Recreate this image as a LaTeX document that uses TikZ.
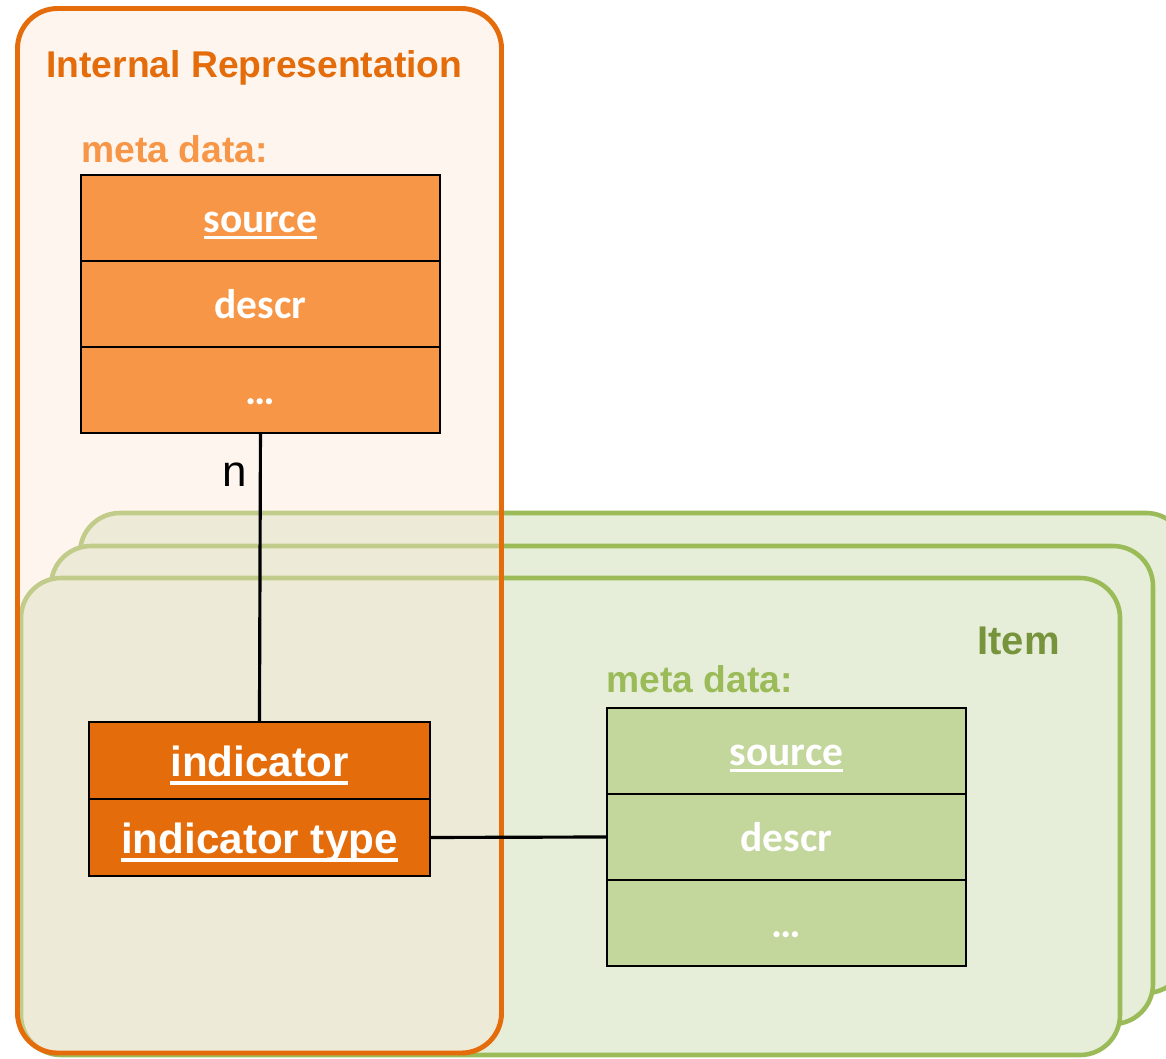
\documentclass[tikz,border=0pt]{standalone}
\usepackage{fontspec}
\setmainfont{Liberation Sans}
\newfontfamily\carlito{Carlito}

\definecolor{oDark}{HTML}{E46C0A}
\definecolor{oLight}{HTML}{F79646}
\definecolor{oPale}{HTML}{FCE6D7}
\definecolor{gBorder}{HTML}{9BBB59}
\definecolor{gFill}{HTML}{E6EED9}
\definecolor{gBox}{HTML}{C3D69B}
\definecolor{gDark}{HTML}{77933C}

% underlined word: #1 = rule position below baseline, #2 = rule thickness
\newcommand\ulword[3]{\setbox0\hbox{#3}\rlap{\rule[-#1]{\wd0}{#2}}\box0}

\tikzset{
  x=0.02cm, y=-0.02cm,
  card/.style={draw=gBorder, fill=gFill, line width=2.6pt, rounded corners=0.8cm},
  container/.style={draw=oDark, line width=2.8pt, rounded corners=0.8cm,
    fill=oPale, fill opacity=0.4},
  rowbox/.style={draw=black, line width=1.2pt, minimum width=7.18cm,
    minimum height=1.72cm, inner sep=0pt, outer sep=0pt, anchor=north west,
    text=white, font=\carlito\bfseries\fontsize{23.6}{27}\selectfont,
    text height=19pt, text depth=3pt},
  orangerow/.style={rowbox, fill=oLight},
  greenrow/.style={rowbox, fill=gBox},
  indrow/.style={rowbox, fill=oDark, minimum width=6.82cm, minimum height=1.54cm,
    font=\bfseries\fontsize{24}{28}\selectfont, text height=20pt, text depth=2pt},
  title/.style={font=\bfseries\fontsize{21.2}{25}\selectfont, inner sep=0pt},
  link/.style={draw=black, line width=1.8pt},
}

\begin{document}
\begin{tikzpicture}
\useasboundingbox (0,0) rectangle (1166,1058);

% stacked item cards, back to front
\draw[card] (80,513) rectangle (1186,993);
\draw[card] (51,546) rectangle (1153,1024);
\draw[card] (21,578) rectangle (1120,1055);

% item contents
\node[title, text=gDark, font=\bfseries\fontsize{22.8}{27}\selectfont, anchor=base east]
  (itemtitle) at (1060,654) {Item};
\node[title, text=gBorder, anchor=base west] (gmetalabel) at (606,692) {meta data:};
\node[greenrow] (gsrc) at (607,708) {\ulword{4pt}{1.7pt}{source}};
\node[greenrow] (gdescr) at (gsrc.south west) {descr};
\node[greenrow] (gdots) at (gdescr.south west) {\char"2026};

% internal representation container
\draw[container] (17.5,8.5) rectangle (501.5,1053);

\node[title, text=oDark, anchor=base west] (irtitle) at (46,77) {Internal Representation};
\node[title, text=oLight, anchor=base west] (ometalabel) at (81,162) {meta data:};
\node[orangerow] (osrc) at (81,175) {\ulword{4pt}{1.7pt}{source}};
\node[orangerow] (odescr) at (osrc.south west) {descr};
\node[orangerow] (odots) at (odescr.south west) {\char"2026};

\node[indrow] (ind) at (89,722) {\ulword{4.8pt}{2pt}{indicator}};
\node[indrow] (indtype) at (ind.south west) {\ulword{4.8pt}{2pt}{indicator type}};

% relations
\draw[link] (odots.south) -- (ind.north);
\draw[link] (indtype.east) -- (gdescr.west);
\node[font=\fontsize{25}{29}\selectfont, inner sep=0pt, anchor=base] (nlabel) at (235,486) {n};
\end{tikzpicture}
\end{document}
